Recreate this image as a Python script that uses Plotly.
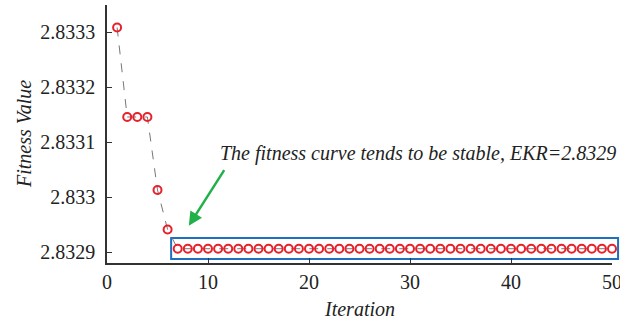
import plotly.graph_objects as go

# Fitness value per iteration
iterations = list(range(1, 51))
fitness = [2.833309, 2.833146, 2.833146, 2.833146, 2.833013, 2.832941] + [2.832906] * 44

ekr_value = 2.8329
y_ticks = [2.8329, 2.833, 2.8331, 2.8332, 2.8333]
y_tick_text = ["2.8329", "2.833", "2.8331", "2.8332", "2.8333"]
x_ticks = [0, 10, 20, 30, 40, 50]

y_range = [2.83288, 2.83335]
serif = "Liberation Serif, Times New Roman, serif"
axis_color = "#333333"
text_color = "#222222"

fig = go.Figure()
fig.add_trace(go.Scatter(
    x=iterations, y=fitness, mode="lines+markers",
    line=dict(color="#777777", width=1, dash="dash"),
    marker=dict(symbol="circle-open", size=8, color="#e8202a", line=dict(width=2, color="#e8202a")),
    showlegend=False, cliponaxis=False,
))

# Box around the stable part of the curve (paper coords so it can run past the axis end)
stable = fitness[-1]
def to_paper(v):
    return (v - y_range[0]) / (y_range[1] - y_range[0])

fig.add_shape(type="rect", xref="paper", yref="paper",
              x0=0.127, x1=1.012, y0=to_paper(stable - 0.0000185), y1=to_paper(stable + 0.0000195),
              line=dict(color="#1f6fbf", width=2), fillcolor="rgba(0,0,0,0)", layer="below")

# Arrow pointing at the stable region
fig.add_annotation(x=8.1, y=2.832948, ax=11.7, ay=2.833052, xref="x", yref="y", axref="x", ayref="y",
                   text="", showarrow=True, arrowhead=2, arrowsize=1.1, arrowwidth=2.5,
                   arrowcolor="#22b04a", standoff=0)
fig.add_annotation(x=1.0, y=2.833080, xref="paper", yref="y", xanchor="right", yanchor="middle",
                   text="<i>The fitness curve tends to be stable, EKR=%.4f</i>" % ekr_value, showarrow=False,
                   font=dict(family=serif, size=20, color=text_color), xshift=6)

# Axis titles
fig.add_annotation(x=0, y=0.5, xref="paper", yref="paper", xanchor="center", yanchor="middle",
                   text="<i>Fitness Value</i>", textangle=-90, showarrow=False, xshift=-83,
                   font=dict(family=serif, size=20, color=text_color))
fig.add_annotation(x=0.5, y=0, xref="paper", yref="paper", xanchor="center", yanchor="middle",
                   text="<i>Iteration</i>", showarrow=False, yshift=-46,
                   font=dict(family=serif, size=20, color=text_color))

fig.update_layout(
    width=620, height=323,
    margin=dict(l=107, r=8, t=5, b=60),
    plot_bgcolor="white", paper_bgcolor="white",
    font=dict(family=serif, size=20, color=text_color),
    xaxis=dict(range=[0, 50], tickvals=x_ticks, ticks="inside", ticklen=5, tickcolor=axis_color,
               showline=True, linecolor=axis_color, linewidth=1.5, showgrid=False, zeroline=False,
               ticklabeloverflow="allow", automargin=False,
               tickfont=dict(family=serif, size=20, color=text_color)),
    yaxis=dict(range=y_range, tickvals=y_ticks, ticktext=y_tick_text, ticks="inside",
               ticklen=5, tickcolor=axis_color, showline=True, linecolor=axis_color, linewidth=1.5,
               showgrid=False, zeroline=False, ticklabelstandoff=6, automargin=False,
               tickfont=dict(family=serif, size=20, color=text_color)),
)

fig.write_html("out.html")
